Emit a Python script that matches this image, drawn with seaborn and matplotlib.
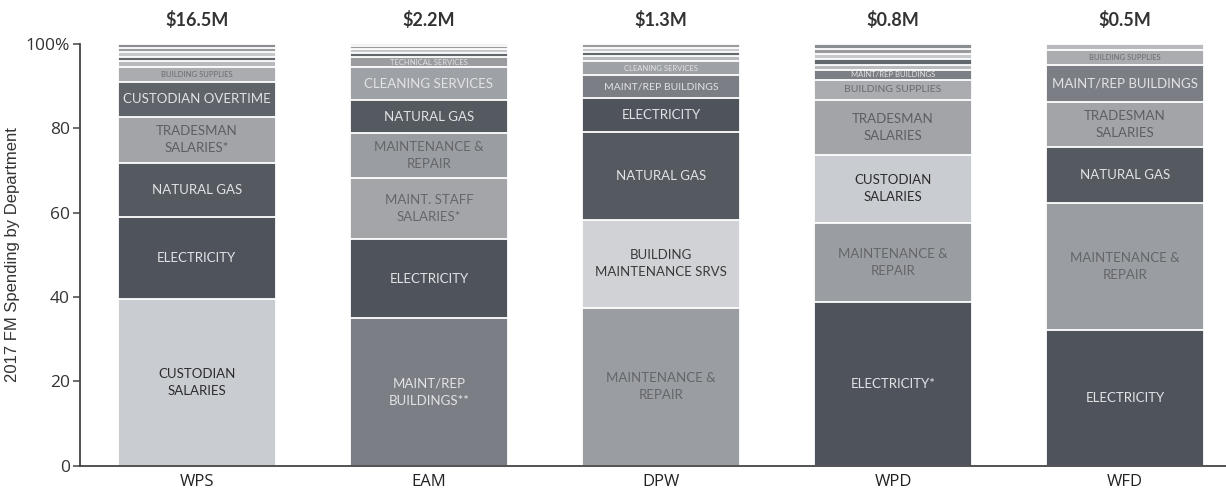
import matplotlib
matplotlib.use("Agg")
import matplotlib.pyplot as plt
import pandas as pd
import seaborn as sns

departments = ["WPS", "EAM", "DPW", "WPD", "WFD"]
totals = ["$16.5M", "$2.2M", "$1.3M", "$0.8M", "$0.5M"]

# segments listed bottom -> top, share of department spending (%)
wps_items = ["CUSTODIAN\nSALARIES", "ELECTRICITY", "NATURAL GAS", "TRADESMAN\nSALARIES*",
             "CUSTODIAN OVERTIME", "BUILDING SUPPLIES", "OTHER 1", "OTHER 2", "OTHER 3",
             "OTHER 4", "OTHER 5"]
wps_values = [39.5, 19.4, 12.9, 10.9, 8.3, 3.5, 1.5, 1.0, 1.2, 0.8, 1.0]

eam_items = ["MAINT/REP\nBUILDINGS**", "ELECTRICITY", "MAINT. STAFF\nSALARIES*",
             "MAINTENANCE &\nREPAIR", "NATURAL GAS", "CLEANING SERVICES",
             "TECHNICAL SERVICES", "OTHER 1", "OTHER 2", "OTHER 3", "OTHER 4"]
eam_values = [35.0, 18.8, 14.4, 10.7, 7.8, 7.8, 2.4, 1.0, 0.8, 0.7, 0.6]

dpw_items = ["MAINTENANCE &\nREPAIR", "BUILDING\nMAINTENANCE SRVS", "NATURAL GAS",
             "ELECTRICITY", "MAINT/REP BUILDINGS", "CLEANING SERVICES", "OTHER 1",
             "OTHER 2", "OTHER 3", "OTHER 4"]
dpw_values = [37.4, 20.9, 20.8, 8.1, 5.4, 3.4, 1.2, 0.8, 1.0, 1.0]

wpd_items = ["ELECTRICITY*", "MAINTENANCE &\nREPAIR", "CUSTODIAN\nSALARIES",
             "TRADESMAN\nSALARIES", "BUILDING SUPPLIES", "MAINT/REP BUILDINGS",
             "OTHER 1", "OTHER 2", "OTHER 3", "OTHER 4", "OTHER 5"]
wpd_values = [38.9, 18.7, 16.1, 13.0, 4.8, 2.3, 1.3, 1.3, 1.2, 1.2, 1.2]

wfd_items = ["ELECTRICITY", "MAINTENANCE &\nREPAIR", "NATURAL GAS", "TRADESMAN\nSALARIES",
             "MAINT/REP BUILDINGS", "BUILDING SUPPLIES", "OTHER 1"]
wfd_values = [32.2, 30.1, 13.3, 10.7, 8.7, 3.5, 1.5]

dept_items = [wps_items, eam_items, dpw_items, wpd_items, wfd_items]
dept_values = [wps_values, eam_values, dpw_values, wpd_values, wfd_values]

fill = {
    "CUSTODIAN SALARIES": "#c9ccd1",
    "ELECTRICITY": "#4f545c",
    "NATURAL GAS": "#555960",
    "TRADESMAN SALARIES": "#a2a4a8",
    "CUSTODIAN OVERTIME": "#5f636a",
    "BUILDING SUPPLIES": "#aaacb0",
    "MAINT/REP BUILDINGS": "#7b7e84",
    "MAINTENANCE & REPAIR": "#9a9da1",
    "MAINT. STAFF SALARIES": "#a3a5a9",
    "CLEANING SERVICES": "#9ea1a5",
    "BUILDING MAINTENANCE SRVS": "#d0d2d5",
    "TECHNICAL SERVICES": "#9a9ca0",
}
other_fill = ["#8a8d92", "#b8babd", "#63676e", "#c6c8cb", "#9a9ca0"]
text_col = {
    "CUSTODIAN SALARIES": "#2b2b2b",
    "BUILDING MAINTENANCE SRVS": "#3a3a3a",
    "TRADESMAN SALARIES": "#5c5e62",
    "MAINTENANCE & REPAIR": "#64666a",
    "MAINT. STAFF SALARIES": "#64666a",
    "BUILDING SUPPLIES": "#6a6c70",
}


def key(name):
    return name.replace("\n", " ").replace("*", "")


rows = []
for dept, items, vals in zip(departments, dept_items, dept_values):
    bottom = 0.0
    for lvl, (item, v) in enumerate(zip(items, vals)):
        k = key(item)
        color = fill.get(k, other_fill[lvl % len(other_fill)])
        rows.append(dict(dept=dept, level=lvl, item=item, value=v,
                         bottom=bottom, top=bottom + v, color=color))
        bottom += v
df = pd.DataFrame(rows)

sns.set_style("white")
fig = plt.figure(figsize=(12.26, 4.94), dpi=100)
ax = fig.add_axes([0.065, 0.057, 0.935, 0.854])

# stacked bars: draw cumulative heights from the top layer down
for lvl in sorted(df["level"].unique(), reverse=True):
    sub = df[df["level"] == lvl]
    pal = dict(zip(sub["dept"], sub["color"]))
    sns.barplot(data=sub, x="dept", y="top", hue="dept", palette=pal,
                order=departments, hue_order=list(sub["dept"]), width=0.68,
                saturation=1, errorbar=None, edgecolor="white", linewidth=1.3,
                legend=False, ax=ax)

for _, r in df.iterrows():
    if r["item"].startswith("OTHER"):
        continue
    i = departments.index(r["dept"])
    k = key(r["item"])
    tc = text_col.get(k, "#e2e3e5")
    if r["value"] >= 6:
        fs = 9.5
    elif r["value"] >= 4:
        fs = 7.5
    else:
        fs = 5.5
    ax.text(i, (r["bottom"] + r["top"]) / 2, r["item"], ha="center", va="center",
            fontsize=fs, color=tc, family="Lato", linespacing=1.5)

for i, t in enumerate(totals):
    ax.text(i, 103.5, t, ha="center", va="bottom", fontsize=13, fontweight="bold",
            color="#333333", family="Lato", clip_on=False)

ax.set_xlim(-0.505, 4.435)
ax.set_ylim(0, 100)
ax.set_yticks([0, 20, 40, 60, 80, 100])
ax.set_yticklabels(["0", "20", "40", "60", "80", "100%"], family="Open Sans",
                   fontsize=12.5, color="#333333")
ax.set_xticks(range(len(departments)))
ax.set_xticklabels(departments, family="Open Sans", fontsize=12, color="#222222")
ax.tick_params(axis="y", length=5, width=1.1, color="#444444", pad=2, left=True)
ax.tick_params(axis="x", length=0, pad=6)
ax.set_xlabel("")
ax.set_ylabel("2017 FM Spending by Department", family="Liberation Sans",
              fontsize=12, color="#333333")
ax.yaxis.set_label_coords(-0.052, 0.5)
for s in ["top", "right"]:
    ax.spines[s].set_visible(False)
for s in ["left", "bottom"]:
    ax.spines[s].set_color("#444444")
    ax.spines[s].set_linewidth(1.3)

fig.savefig("out.png", dpi=100, facecolor="white")
